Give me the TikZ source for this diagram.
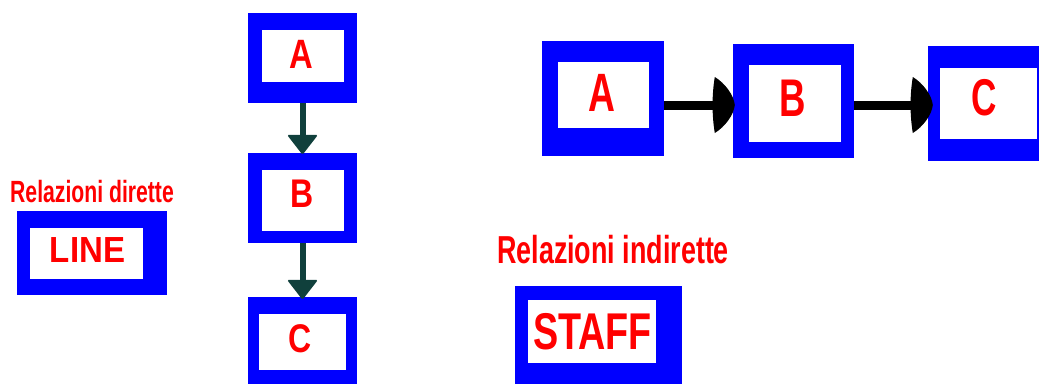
\documentclass[tikz,border=0pt]{standalone}
\usepackage{fontspec}
\setmainfont{Liberation Sans}
\usetikzlibrary{calc}
\definecolor{boxblue}{RGB}{0,0,255}
\definecolor{txtred}{RGB}{255,0,0}
\definecolor{tealdark}{RGB}{16,64,60}
% bold condensed label: size, horizontal squeeze, text
\newcommand{\condtext}[3]{\fontsize{#1}{#1}\selectfont\bfseries\scalebox{#2}[1]{#3}}
\begin{document}
\begin{tikzpicture}[x=1pt,y=-1pt,
  outerbox/.style={fill=boxblue,draw=none,inner sep=0pt,rectangle},
  innerbox/.style={fill=white,draw=none,inner sep=0pt,rectangle},
  lbl/.style={text=txtred,inner sep=0pt},
  vline/.style={draw=tealdark,line width=6pt},
  hline/.style={draw=black,line width=9pt},
  vhead/.pic={\fill[tealdark,rounded corners=1.5pt] (-15.5,-20) -- (15.5,-20) -- (0,0) -- cycle;},
  hhead/.pic={\fill[black] (-20,-28) .. controls (-10,-22) and (-1,-10) .. (0,0)
      .. controls (-1,10) and (-10,22) .. (-20,28)
      .. controls (-23,10) and (-23,-10) .. cycle;}
]
\useasboundingbox (0,0) rectangle (1039,383);
\clip (0,0) rectangle (1039,383);

% ---- left legend: direct relations
\node[lbl,anchor=base west] (tdir) at (10,202) {\condtext{30.7pt}{0.69}{Relazioni dirette}};
\node[outerbox,minimum width=150pt,minimum height=84pt] (line) at (92,253) {};
\node[innerbox,minimum width=113pt,minimum height=51pt] (linein) at (86.5,253.5) {};
\node[lbl] (tline) at (87.5,250) {\condtext{36.3pt}{0.91}{LINE}};

% ---- vertical chain
\node[outerbox,minimum width=109pt,minimum height=90pt] (vA) at (302.5,58) {};
\node[innerbox,minimum width=82pt,minimum height=52pt] (vAin) at (303,56) {};
\node[lbl] (tvA) at (301.5,54) {\condtext{41pt}{0.8}{A}};

\node[outerbox,minimum width=109pt,minimum height=90pt] (vB) at (302.5,198) {};
\node[innerbox,minimum width=82pt,minimum height=61pt] (vBin) at (303,200.5) {};
\node[lbl] (tvB) at (302.5,194) {\condtext{40pt}{0.8}{B}};

\node[outerbox,minimum width=109pt,minimum height=96pt] (vC) at (302.5,345) {};
\node[innerbox,minimum width=87pt,minimum height=56pt] (vCin) at (302.5,342) {};
\node[lbl] (tvC) at (300,339) {\condtext{40pt}{0.8}{C}};

\draw[vline] (vA.south) -- ($(vB.north)+(0,-17)$);
\pic at ($(vB.north)+(0,2)$) {vhead};
\draw[vline] (vB.south) -- ($(vC.north)+(0,-16)$);
\pic at ($(vC.north)+(0,3)$) {vhead};

% ---- horizontal chain
\node[outerbox,minimum width=122pt,minimum height=115pt] (hA) at (603,98.5) {};
\node[innerbox,minimum width=91pt,minimum height=66pt] (hAin) at (603.5,95) {};
\node[lbl] (thA) at (601.5,92.5) {\condtext{54pt}{0.69}{A}};

\node[outerbox,minimum width=121pt,minimum height=114pt] (hB) at (793.5,101) {};
\node[innerbox,minimum width=92pt,minimum height=77pt] (hBin) at (795,103.5) {};
\node[lbl] (thB) at (793,98) {\condtext{53pt}{0.69}{B}};

\node[outerbox,minimum width=122pt,minimum height=115pt] (hC) at (989,103.5) {};
\node[innerbox,minimum width=97pt,minimum height=71pt] (hCin) at (988.5,103.5) {};
\node[lbl] (thC) at (984.5,97.5) {\condtext{51.7pt}{0.68}{C}};

\draw[hline] (hA.east |- 0,105) -- ($(hB.west |- 0,105)+(-16,0)$);
\pic at ($(hB.west |- 0,105)+(2,0)$) {hhead};
\draw[hline] (hB.east |- 0,105) -- ($(hC.west |- 0,105)+(-14,0)$);
\pic at ($(hC.west |- 0,105)+(5,0)$) {hhead};

% ---- indirect relations
\node[lbl,anchor=base west] (tind) at (497,263) {\condtext{39pt}{0.69}{Relazioni indirette}};
\node[outerbox,minimum width=167pt,minimum height=110pt] (staff) at (598.5,341) {};
\node[innerbox,minimum width=128pt,minimum height=63pt] (staffin) at (592,331.5) {};
\node[lbl] (tstaff) at (592.5,331.5) {\condtext{51.7pt}{0.73}{STAFF}};
\end{tikzpicture}
\end{document}
